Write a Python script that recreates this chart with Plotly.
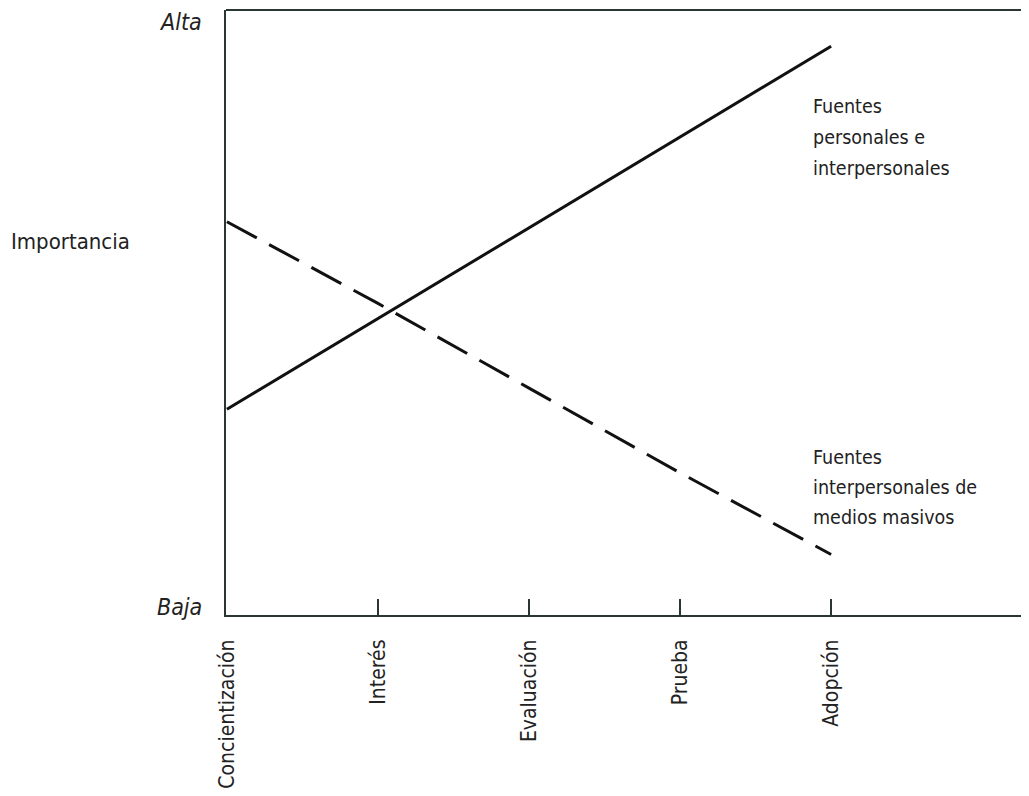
import plotly.graph_objects as go

categories = ["Concientización", "Interés", "Evaluación", "Prueba", "Adopción"]
personales = [0.34, 0.49, 0.64, 0.79, 0.94]
masivos = [0.65, 0.515, 0.375, 0.235, 0.10]
label_personales = ["Fuentes", "personales e", "interpersonales"]
label_masivos = ["Fuentes", "interpersonales de", "medios masivos"]

FONT = "DejaVu Sans Condensed, sans-serif"
TXT = "#222"
AX = "#2a3631"

xs = list(range(len(categories)))
fig = go.Figure()
fig.add_trace(go.Scatter(x=xs, y=personales, mode="lines",
                         line=dict(color="#111", width=3), showlegend=False))
fig.add_trace(go.Scatter(x=xs, y=masivos, mode="lines",
                         line=dict(color="#111", width=3, dash="34px,14px"), showlegend=False))

fig.update_layout(
    width=1021, height=788,
    margin=dict(l=218, r=0, t=2, b=181),
    paper_bgcolor="white", plot_bgcolor="white",
    font=dict(family=FONT, size=21, color=TXT),
    xaxis=dict(range=[-0.006, 5.31], tickvals=xs, ticktext=categories, tickangle=-90,
               ticks="inside", ticklen=16, tickwidth=1.5, tickcolor=AX, automargin=False,
               showgrid=False, zeroline=False, showline=True, linecolor=AX, linewidth=2,
               ticklabelstandoff=14, tickfont=dict(size=21, color=TXT)),
    yaxis=dict(range=[0, 1], showticklabels=False, ticks="", showgrid=False, zeroline=False,
               showline=True, linecolor=AX, linewidth=2, automargin=False),
)
# top border
fig.add_shape(type="line", xref="paper", yref="paper", x0=0, x1=1, y0=1, y1=1,
              line=dict(color=AX, width=2))

# y-axis labels
fig.add_annotation(text="<i>Alta</i>", xref="paper", yref="y", x=0, y=1, xanchor="right",
                   xshift=-22, yshift=-12, showarrow=False, font=dict(size=23, color=TXT))
fig.add_annotation(text="<i>Baja</i>", xref="paper", yref="y", x=0, y=0, xanchor="right",
                   xshift=-22, yshift=8, showarrow=False, font=dict(size=23, color=TXT))
fig.add_annotation(text="Importancia", xref="paper", yref="paper", x=0, y=0.617, xanchor="left",
                   xshift=-217, showarrow=False, font=dict(size=22, color=TXT))

for i, t in enumerate(label_personales):
    fig.add_annotation(text=t, x=3.87, y=0.79, xanchor="left", showarrow=False,
                       yshift=31 - 31 * i, font=dict(size=19.5, color=TXT))
for i, t in enumerate(label_masivos):
    fig.add_annotation(text=t, x=3.87, y=0.21, xanchor="left", showarrow=False,
                       yshift=30 - 30 * i, font=dict(size=19.5, color=TXT))

fig.write_html("out.html")
